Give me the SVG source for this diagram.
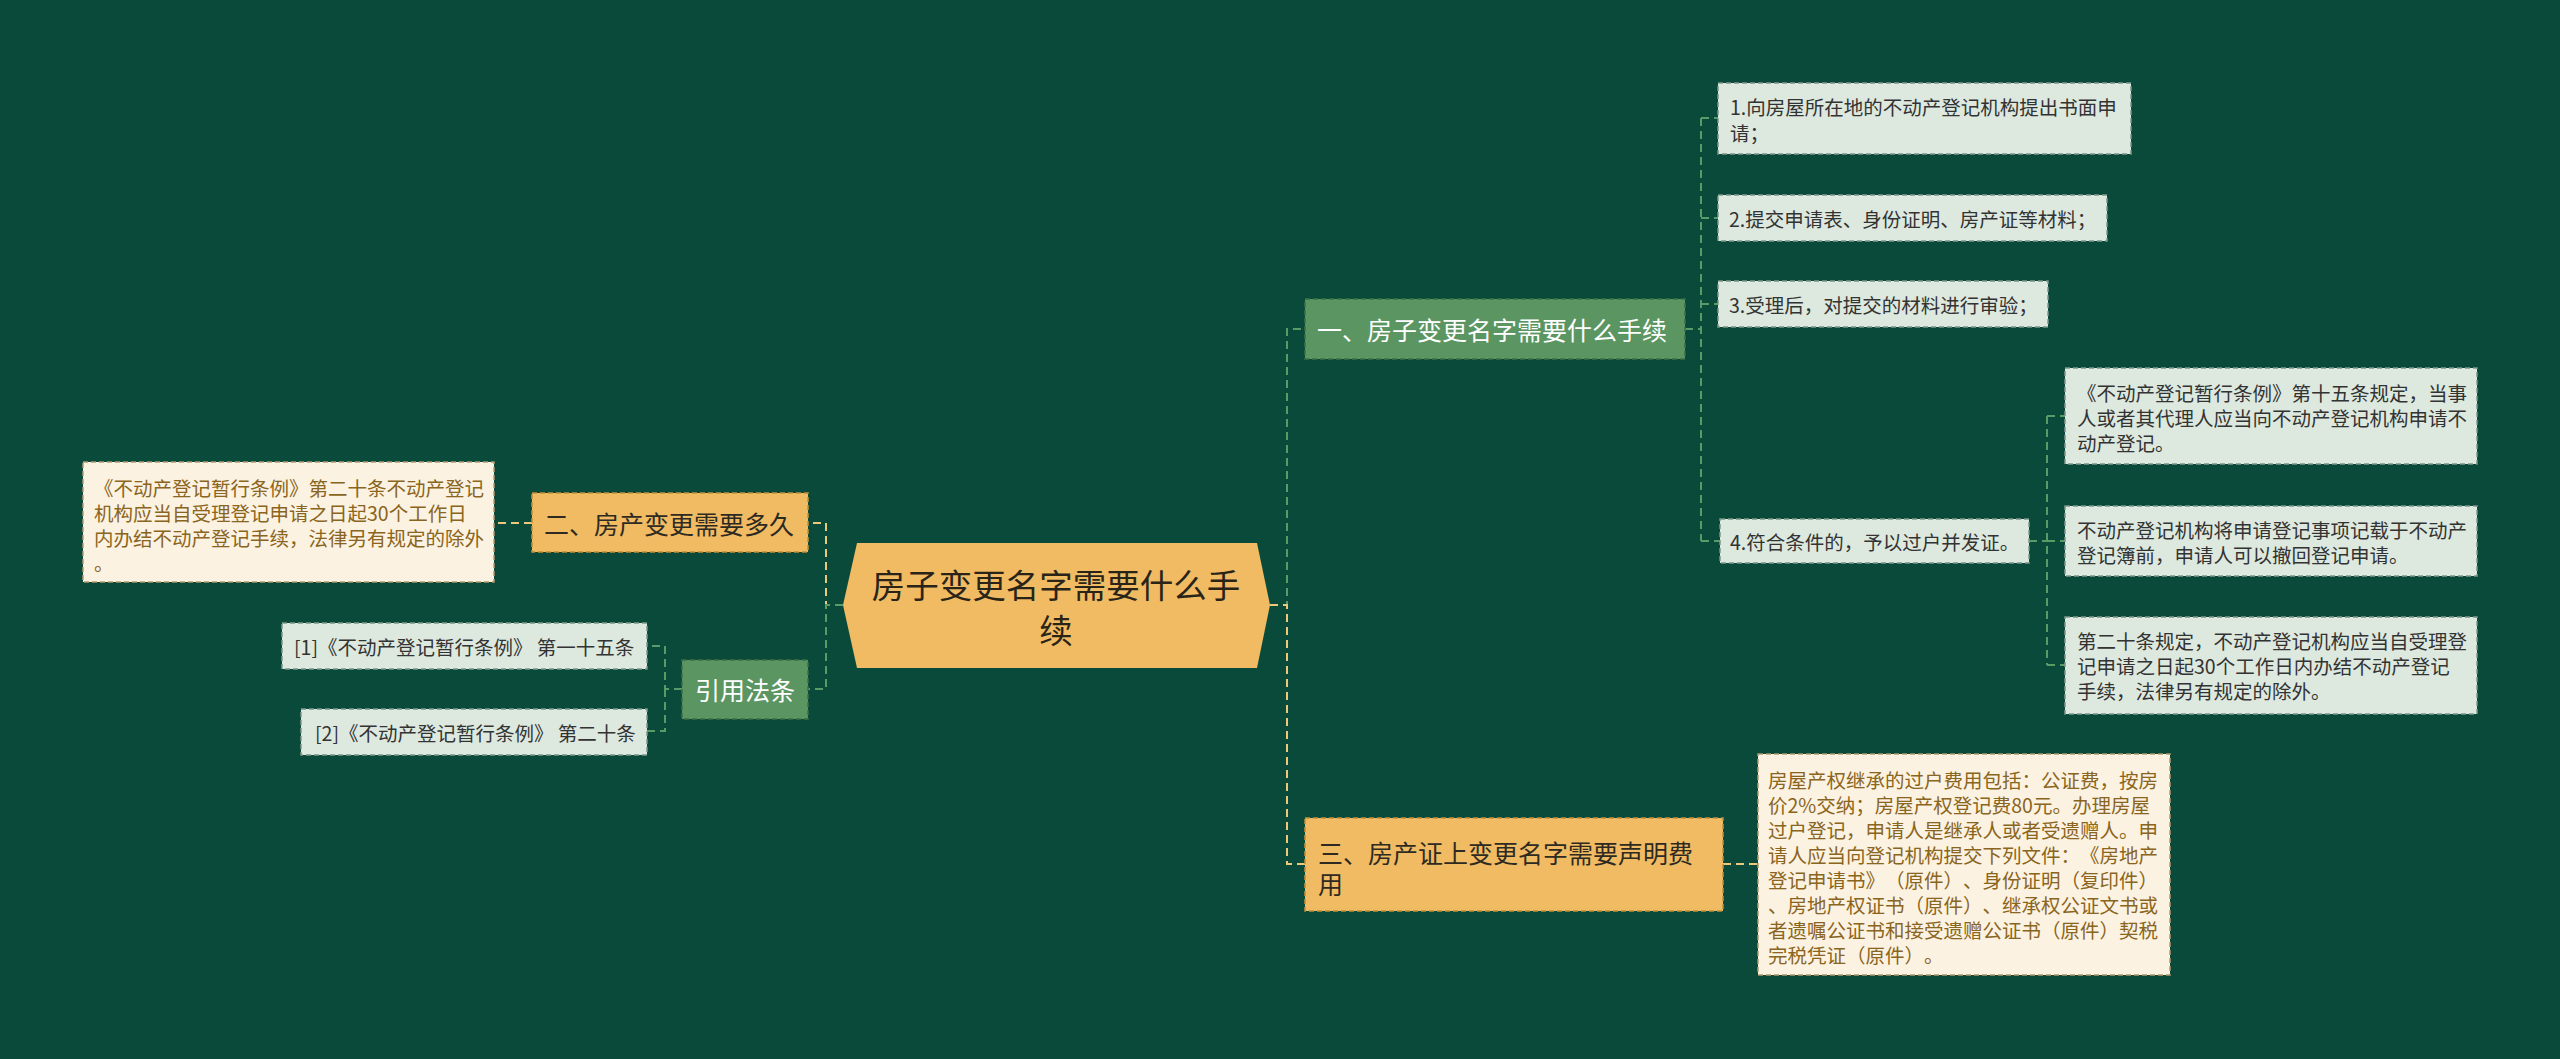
<svg xmlns="http://www.w3.org/2000/svg" width="2560" height="1059" viewBox="0 0 2560 1059">
<style>
text{font-family:"Noto Sans CJK SC","Noto Sans",sans-serif;dominant-baseline:central;text-spacing-trim:space-all}
.yn{fill:#f0bb62;stroke:#c28f3a;stroke-width:1.5;stroke-dasharray:5 3}
.gn{fill:#5b9662;stroke:#3b7045;stroke-width:1.5;stroke-dasharray:5 3}
.lg{fill:#dde9df;stroke:#7d978a;stroke-width:1.5;stroke-dasharray:5 3}
.be{fill:#fcf2e2;stroke:#b39a70;stroke-width:1.5;stroke-dasharray:5 3}
.t1{font-size:25px;fill:#2e2a22}
.t1w{font-size:25px;fill:#ffffff}
.t2{font-size:19.5px;fill:#333333}
.t2b{font-size:19.5px;fill:#8a6520}
.cg{fill:none;stroke:#5a9a66;stroke-width:2;stroke-dasharray:8 5}
.cy{fill:none;stroke:#ecc97a;stroke-width:2;stroke-dasharray:8 5}
</style>
<rect x="0" y="0" width="2560" height="1059" fill="#0a4a3a"/>
<g id="connectors">
<path class="cy" d="M843 605 H826 V523 H808"/>
<path class="cg" d="M843 605 H826 V689 H808"/>
<path class="cy" d="M532 523 H494"/>
<path class="cg" d="M682 689 H665 V646 H647 M665 689 V731 H647"/>
<path class="cg" d="M1270 605 H1287 V329 H1305"/>
<path class="cy" d="M1270 605 H1287 V864 H1305"/>
<path class="cg" d="M1685 329 H1701 M1701 118 V541 M1701 118 H1718 M1701 218 H1718 M1701 304 H1718 M1701 541 H1720"/>
<path class="cg" d="M2029 541 H2047 M2047 416 V665 M2047 416 H2065 M2047 541 H2065 M2047 665 H2065"/>
<path class="cy" d="M1723 864 H1758"/>
</g>
<g id="root">
<polygon points="857,543 1257,543 1270,605 1257,668 857,668 843,605" fill="#f0bb62"/>
<text x="1056" y="583" font-size="33.5" fill="#2a2418" text-anchor="middle">房子变更名字需要什么手</text>
<text x="1056" y="628" font-size="33.5" fill="#2a2418" text-anchor="middle">续</text>
</g>
<g id="n2">
<rect class="yn" x="532" y="493" width="276" height="59"/>
<text class="t1" x="544" y="523">二、房产变更需要多久</text>
</g>
<g id="n2c">
<rect class="be" x="83" y="462" width="411" height="120"/>
<text class="t2b" x="94" y="487">《不动产登记暂行条例》第二十条不动产登记</text>
<text class="t2b" x="94" y="512">机构应当自受理登记申请之日起30个工作日</text>
<text class="t2b" x="94" y="537">内办结不动产登记手续，法律另有规定的除外</text>
<text class="t2b" x="94" y="562">。</text>
</g>
<g id="nref">
<rect class="gn" x="682" y="660" width="126" height="59"/>
<text class="t1w" x="745" y="689" text-anchor="middle">引用法条</text>
</g>
<g id="ref1">
<rect class="lg" x="282" y="623" width="365" height="46"/>
<text class="t2" x="294" y="646">[1]《不动产登记暂行条例》 第一十五条</text>
</g>
<g id="ref2">
<rect class="lg" x="301" y="709" width="346" height="46"/>
<text class="t2" x="315" y="732">[2]《不动产登记暂行条例》 第二十条</text>
</g>
<g id="n1">
<rect class="gn" x="1305" y="299" width="380" height="60"/>
<text class="t1w" x="1317" y="329">一、房子变更名字需要什么手续</text>
</g>
<g id="n1c1">
<rect class="lg" x="1718" y="83" width="413" height="71"/>
<text class="t2" x="1730" y="106">1.向房屋所在地的不动产登记机构提出书面申</text>
<text class="t2" x="1730" y="132">请；</text>
</g>
<g id="n1c2">
<rect class="lg" x="1718" y="195" width="389" height="46"/>
<text class="t2" x="1729" y="218">2.提交申请表、身份证明、房产证等材料；</text>
</g>
<g id="n1c3">
<rect class="lg" x="1718" y="281" width="330" height="46"/>
<text class="t2" x="1729" y="304">3.受理后，对提交的材料进行审验；</text>
</g>
<g id="n1c4">
<rect class="lg" x="1720" y="519" width="309" height="44"/>
<text class="t2" x="1730" y="541">4.符合条件的，予以过户并发证。</text>
</g>
<g id="n4a">
<rect class="lg" x="2065" y="368" width="412" height="96"/>
<text class="t2" x="2077" y="392">《不动产登记暂行条例》第十五条规定，当事</text>
<text class="t2" x="2077" y="417">人或者其代理人应当向不动产登记机构申请不</text>
<text class="t2" x="2077" y="442">动产登记。</text>
</g>
<g id="n4b">
<rect class="lg" x="2065" y="506" width="412" height="70"/>
<text class="t2" x="2077" y="529">不动产登记机构将申请登记事项记载于不动产</text>
<text class="t2" x="2077" y="554">登记簿前，申请人可以撤回登记申请。</text>
</g>
<g id="n4c">
<rect class="lg" x="2065" y="617" width="412" height="97"/>
<text class="t2" x="2077" y="640">第二十条规定，不动产登记机构应当自受理登</text>
<text class="t2" x="2077" y="665">记申请之日起30个工作日内办结不动产登记</text>
<text class="t2" x="2077" y="690">手续，法律另有规定的除外。</text>
</g>
<g id="n3">
<rect class="yn" x="1305" y="818" width="418" height="93"/>
<text class="t1" x="1318" y="852">三、房产证上变更名字需要声明费</text>
<text class="t1" x="1318" y="883">用</text>
</g>
<g id="n3c">
<rect class="be" x="1758" y="754" width="412" height="221"/>
<text class="t2b" x="1768" y="779">房屋产权继承的过户费用包括：公证费，按房</text>
<text class="t2b" x="1768" y="804">价2%交纳；房屋产权登记费80元。办理房屋</text>
<text class="t2b" x="1768" y="829">过户登记，申请人是继承人或者受遗赠人。申</text>
<text class="t2b" x="1768" y="854">请人应当向登记机构提交下列文件：《房地产</text>
<text class="t2b" x="1768" y="879">登记申请书》（原件）、身份证明（复印件）</text>
<text class="t2b" x="1768" y="904">、房地产权证书（原件）、继承权公证文书或</text>
<text class="t2b" x="1768" y="929">者遗嘱公证书和接受遗赠公证书（原件）契税</text>
<text class="t2b" x="1768" y="954">完税凭证（原件）。</text>
</g>
</svg>
